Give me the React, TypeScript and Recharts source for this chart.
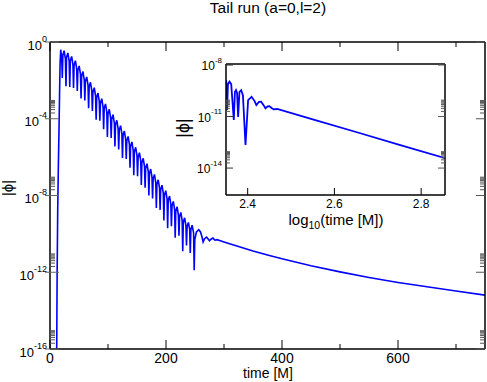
import React from 'react';
import { LineChart, Line, XAxis, YAxis } from 'recharts';

// main run: time [M] and log10 |phi|
const time = [
  11.5, 12.3, 13.3, 14.3, 15.5, 16.6, 17.4,
  18.5, 20.2, 21.2, 22.2, 24.3, 26.55, 27.55, 28.55, 30.8, 33.05, 34.05, 35.05,
  37.3, 39.55, 40.55, 41.55, 43.8, 46.05, 47.05, 48.05, 50.3, 52.55, 53.55, 54.55,
  56.8, 59.05, 60.05, 61.05, 63.3, 65.55, 66.55, 67.55, 69.8, 72.05, 73.05, 74.05,
  76.3, 78.55, 79.55, 80.55, 82.7, 84.95, 85.95, 86.95, 89.2, 91.45, 92.45, 93.45,
  95.7, 97.95, 98.95, 99.95, 102.2, 104.45, 105.45, 106.45, 108.7, 110.95, 111.95, 112.95,
  115.2, 117.45, 118.45, 119.45, 121.7, 123.95, 124.95, 125.95, 128.2, 130.45, 131.45, 132.45,
  134.7, 136.95, 137.95, 138.95, 141.2, 143.45, 144.45, 145.45, 147.7, 149.95, 150.95, 151.95,
  154.2, 156.45, 157.45, 158.45, 160.7, 162.95, 163.95, 164.95, 167.2, 169.45, 170.45, 171.45,
  173.6, 175.85, 176.85, 177.85, 180.1, 182.35, 183.35, 184.35, 186.6, 188.85, 189.85, 190.85,
  193.1, 195.35, 196.35, 197.35, 199.6, 201.85, 202.85, 203.85, 206.1, 208.35, 209.35, 210.35,
  212.6, 214.85, 215.85, 216.85, 219.1, 221.35, 222.35, 223.35, 225.6, 227.85, 228.85, 229.85,
  232.1, 234.35, 235.35, 236.35, 238.6, 240.85, 241.85, 242.85, 245.0, 247.6, 248.6, 249.6,
  252.5, 256.5, 259.5, 262.0, 264.0, 266.5, 270.0, 273.0, 275.0, 277.5, 281.0, 284.5, 288.0, 295.0,
  300, 325, 350, 375, 400, 450, 500, 550, 600, 650, 700, 750,
];
const logPhi = [
  -16.5, -12.0, -8.75, -6.7, -4.6, -2.5, -1.1,
  -0.4, -0.83, -1.87, -0.68, -0.45, -0.88, -2.3, -0.8, -0.57, -1.0, -2.35, -0.98,
  -0.75, -1.18, -2.4, -1.2, -0.97, -1.4, -2.55, -1.48, -1.25, -1.68, -2.95, -1.77,
  -1.54, -1.97, -3.05, -2.05, -1.82, -2.25, -3.45, -2.33, -2.1, -2.53, -3.6, -2.61,
  -2.38, -2.81, -4.05, -2.89, -2.66, -3.09, -4.1, -3.18, -2.95, -3.38, -4.55, -3.46,
  -3.23, -3.66, -4.95, -3.74, -3.51, -3.94, -5.0, -4.02, -3.79, -4.22, -5.45, -4.31,
  -4.08, -4.51, -5.6, -4.59, -4.36, -4.79, -6.05, -4.87, -4.64, -5.07, -6.1, -5.15,
  -4.92, -5.35, -6.55, -5.44, -5.21, -5.64, -6.95, -5.72, -5.49, -5.92, -7.0, -6.0,
  -5.77, -6.2, -7.45, -6.29, -6.06, -6.49, -7.6, -6.57, -6.34, -6.77, -8.0, -6.85,
  -6.62, -7.05, -8.15, -7.13, -6.9, -7.33, -8.65, -7.41, -7.18, -7.61, -8.75, -7.69,
  -7.46, -7.89, -9.3, -7.98, -7.75, -8.18, -9.7, -8.26, -8.03, -8.46, -9.6, -8.54,
  -8.31, -8.74, -10.2, -8.82, -8.59, -9.02, -10.1, -9.11, -8.88, -9.31, -10.9, -9.39,
  -9.16, -9.57, -10.6, -9.63, -9.4, -9.78, -11.0, -9.78, -9.55, -9.95, -11.9, -10.3,
  -9.9, -9.78, -9.9, -10.15, -10.42, -10.25, -10.17, -10.28, -10.36, -10.28, -10.22, -10.33, -10.3, -10.37,
  -10.42, -10.66, -10.89, -11.1, -11.3, -11.66, -11.98, -12.27, -12.53, -12.76, -12.98, -13.19,
];

// inset: log10(time) against log10 |phi|
const insetLogTime = [
  2.3505, 2.3525, 2.3545, 2.358, 2.362, 2.368, 2.3705, 2.373, 2.3755, 2.378,
  2.381, 2.385, 2.389, 2.395, 2.401, 2.409, 2.416, 2.42, 2.426, 2.431,
  2.437, 2.441, 2.446, 2.45, 2.455, 2.46, 2.468, 2.55, 2.65, 2.75,
  2.856,
];
const insetLogPhi = [
  -8.87, -10.62, -9.11, -8.97, -9.11, -11.2, -9.57, -9.46, -9.63, -11.03,
  -9.57, -9.46, -9.75, -12.66, -10.04, -9.85, -10.1, -10.33, -10.15, -10.14,
  -10.35, -10.52, -10.4, -10.39, -10.5, -10.58, -10.56, -11.17, -11.9, -12.65,
  -13.43,
];

const mainXTicks = [0, 100, 200, 300, 400, 500, 600, 700];
const mainXMajor = [0, 200, 400, 600];
const mainYMajor = [0, -4, -8, -12, -16];
const insetXTicks = [2.4, 2.6, 2.8];
const insetYMajor = [-8, -11, -14];

const FONT = '"Liberation Sans", Arial, Helvetica, sans-serif';
const BLUE = '#0000ff';

const mainData = time.map((t, i) => ({ t, phi: Math.pow(10, logPhi[i]) }));
const insetData = insetLogTime.map((lt, i) => ({ lt, phi: Math.pow(10, insetLogPhi[i]) }));

// major decades plus the 2..9 minor ticks of the decade just above each one
function logTicks(majors: number[], lo: number, hi: number) {
  const out: number[] = [];
  majors.forEach((e) => {
    out.push(Math.pow(10, e));
    for (let m = 2; m <= 9; m++) {
      const v = m * Math.pow(10, e);
      if (v > lo && v < hi) out.push(v);
    }
  });
  return out;
}

function isDecade(v: number) {
  const e = Math.log10(v);
  return Math.abs(e - Math.round(e)) < 1e-6;
}

function PowLabel({ x, y, v, size, sup }: any) {
  const e = Math.round(Math.log10(v));
  return (
    <text x={x} y={y} textAnchor="end" fontSize={size} fontFamily={FONT} fill="#000">
      <tspan>10</tspan>
      <tspan dy={-size * 0.6} fontSize={sup}>{String(e)}</tspan>
    </text>
  );
}

const MainLeftTick = (p: any) => {
  const { x, y, payload } = p;
  if (!isDecade(payload.value)) {
    return <line x1={x} x2={x + 5} y1={y} y2={y} stroke="#555" strokeWidth={1} />;
  }
  return (
    <g>
      <line x1={x - 5} x2={x + 9} y1={y} y2={y} stroke="#666" strokeWidth={1} />
      <PowLabel x={x - 3} y={y + 7.5} v={payload.value} size={13} sup={9} />
    </g>
  );
};

const MainRightTick = (p: any) => {
  const { x, y, payload } = p;
  const len = isDecade(payload.value) ? 9 : 5;
  return <line x1={x - len} x2={x} y1={y} y2={y} stroke="#555" strokeWidth={1} />;
};

const MainBottomTick = (p: any) => {
  const { x, y, payload } = p;
  const major = mainXMajor.includes(payload.value);
  return (
    <g>
      <line x1={x} x2={x} y1={y} y2={y - (major ? 9 : 5)} stroke="#000" strokeWidth={1} />
      {major && (
        <text x={x} y={y + 14} textAnchor="middle" fontSize={14} fontFamily={FONT} fill="#000">
          {payload.value}
        </text>
      )}
    </g>
  );
};

const MainTopTick = (p: any) => {
  const { x, y, payload } = p;
  const major = mainXMajor.includes(payload.value);
  return <line x1={x} x2={x} y1={y} y2={y + (major ? 9 : 5)} stroke="#000" strokeWidth={1} />;
};

const InsetLeftTick = (p: any) => {
  const { x, y, payload } = p;
  if (!isDecade(payload.value)) {
    return <line x1={x} x2={x + 4} y1={y} y2={y} stroke="#555" strokeWidth={1} />;
  }
  return (
    <g>
      <line x1={x} x2={x + 7} y1={y} y2={y} stroke="#333" strokeWidth={1} />
      <PowLabel x={x - 4} y={y + 5} v={payload.value} size={12} sup={8} />
    </g>
  );
};

const InsetRightTick = (p: any) => {
  const { x, y, payload } = p;
  const len = isDecade(payload.value) ? 7 : 4;
  return <line x1={x - len} x2={x} y1={y} y2={y} stroke="#555" strokeWidth={1} />;
};

const InsetBottomTick = (p: any) => {
  const { x, y, payload } = p;
  return (
    <g>
      <line x1={x} x2={x} y1={y} y2={y - 7} stroke="#000" strokeWidth={1} />
      <text x={x} y={y + 13} textAnchor="middle" fontSize={12} fontFamily={FONT} fill="#000">
        {payload.value.toFixed(1)}
      </text>
    </g>
  );
};

const frame = { stroke: '#000', strokeWidth: 1.5 };

export default function App() {
  const mainY = logTicks(mainYMajor, 1e-16, 1);
  const insetY = logTicks(insetYMajor, 2.7e-16, 1.15e-8);
  return (
    <div style={{ position: 'absolute', left: 0, top: 0, width: 487, height: 382, background: '#fff' }}>
      <div style={{ position: 'absolute', left: 0, top: 0 }}>
        <LineChart width={487} height={382} data={mainData} margin={{ top: 0, right: 0, bottom: 0, left: 0 }}>
          <XAxis
            dataKey="t" type="number" domain={[0, 750]} allowDataOverflow
            ticks={mainXTicks} interval={0} height={33}
            tickSize={0} tickMargin={0} tickLine={false} axisLine={frame} tick={<MainBottomTick />}
          />
          <XAxis
            xAxisId="top" orientation="top" dataKey="t" type="number" domain={[0, 750]} allowDataOverflow
            ticks={mainXTicks} interval={0} height={42}
            tickSize={0} tickMargin={0} tickLine={false} axisLine={frame} tick={<MainTopTick />}
          />
          <YAxis
            type="number" scale="log" domain={[1e-16, 1]} allowDataOverflow
            ticks={mainY} interval={0} width={50}
            tickSize={0} tickMargin={0} tickLine={false} axisLine={frame} tick={<MainLeftTick />}
          />
          <YAxis
            yAxisId="right" orientation="right" type="number" scale="log" domain={[1e-16, 1]} allowDataOverflow
            ticks={mainY} interval={0} width={2}
            tickSize={0} tickMargin={0} tickLine={false} axisLine={frame} tick={<MainRightTick />}
          />
          <Line
            xAxisId="top" yAxisId="right" dataKey="phi" stroke="none" dot={false}
            isAnimationActive={false} legendType="none"
          />
          <Line
            dataKey="phi" stroke={BLUE} strokeWidth={1.6} dot={false}
            isAnimationActive={false} type="linear"
          />
        </LineChart>
      </div>
      <div style={{ position: 'absolute', left: 170, top: 50 }}>
        <LineChart width={290} height={190} data={insetData} margin={{ top: 0, right: 0, bottom: 0, left: 0 }}>
          <XAxis
            dataKey="lt" type="number" domain={[2.35, 2.855]} allowDataOverflow
            ticks={insetXTicks} interval={0} height={45}
            tickSize={0} tickMargin={0} tickLine={false} axisLine={frame} tick={<InsetBottomTick />}
          />
          <XAxis
            xAxisId="top" orientation="top" dataKey="lt" type="number" domain={[2.35, 2.855]} allowDataOverflow
            ticks={[]} height={14} tick={false} tickLine={false} axisLine={frame}
          />
          <YAxis
            type="number" scale="log" domain={[2.7e-16, 1.15e-8]} allowDataOverflow
            ticks={insetY} interval={0} width={56}
            tickSize={0} tickMargin={0} tickLine={false} axisLine={frame} tick={<InsetLeftTick />}
          />
          <YAxis
            yAxisId="right" orientation="right" type="number" scale="log" domain={[2.7e-16, 1.15e-8]} allowDataOverflow
            ticks={insetY} interval={0} width={15}
            tickSize={0} tickMargin={0} tickLine={false} axisLine={frame} tick={<InsetRightTick />}
          />
          <Line
            xAxisId="top" yAxisId="right" dataKey="phi" stroke="none" dot={false}
            isAnimationActive={false} legendType="none"
          />
          <Line
            dataKey="phi" stroke={BLUE} strokeWidth={1.8} dot={false}
            isAnimationActive={false} type="linear"
          />
        </LineChart>
      </div>
      <svg width={487} height={382} style={{ position: 'absolute', left: 0, top: 0, pointerEvents: 'none' }}>
        <text x={268} y={13} textAnchor="middle" fontSize={15.5} fontFamily={FONT} fill="#000">
          Tail run (a=0,l=2)
        </text>
        <text x={268} y={378} textAnchor="middle" fontSize={14} fontFamily={FONT} fill="#000">
          time [M]
        </text>
        <text x={13} y={188} textAnchor="middle" fontSize={15} fontFamily={FONT} fill="#000"
          transform="rotate(-90 13 188)">
          |ϕ|
        </text>
        <text x={336} y={225} textAnchor="middle" fontSize={15} fontFamily={FONT} fill="#000">
          <tspan>log</tspan>
          <tspan dy={4} fontSize={10.5}>10</tspan>
          <tspan dy={-4}>(time [M])</tspan>
        </text>
        <text x={189} y={128} textAnchor="middle" fontSize={18} fontFamily={FONT} fill="#000"
          transform="rotate(-90 189 128)">
          |ϕ|
        </text>
      </svg>
    </div>
  );
}
